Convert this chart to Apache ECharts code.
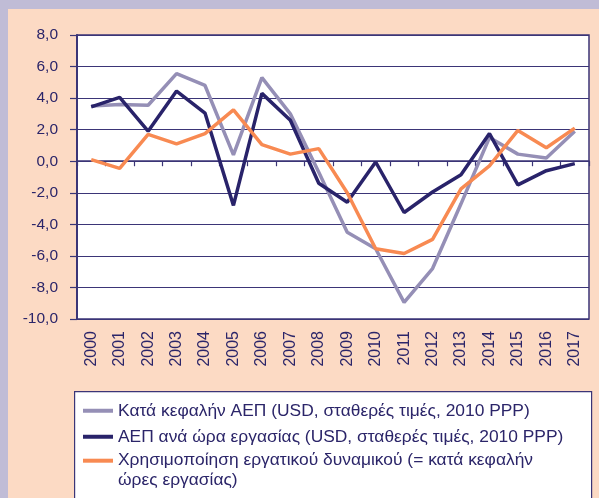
<!DOCTYPE html>
<html>
<head>
<meta charset="utf-8">
<style>
  html, body { margin: 0; padding: 0; background: #fcdac4; }
  #chart { width: 599px; height: 498px; }
</style>
<script src="https://cdn.jsdelivr.net/npm/echarts@6/dist/echarts.min.js"></script>
</head>
<body>
<div id="chart"></div>
<script>
// Years on the category axis
const years = ['2000','2001','2002','2003','2004','2005','2006','2007','2008',
               '2009','2010','2011','2012','2013','2014','2015','2016','2017'];

// Annual % change
const gdpPerCapita = [3.5, 3.6, 3.55, 5.55, 4.8, 0.4, 5.3, 3.0, -0.7,
                      -4.5, -5.55, -8.95, -6.8, -2.7, 1.5, 0.45, 0.2, 1.9];
const gdpPerHour   = [3.45, 4.05, 1.9, 4.45, 3.05, -2.8, 4.3, 2.6, -1.4,
                      -2.6, -0.05, -3.25, -1.95, -0.85, 1.75, -1.5, -0.6, -0.15];
const labourUtil   = [0.1, -0.45, 1.7, 1.1, 1.75, 3.25, 1.05, 0.45, 0.8,
                      -2.0, -5.55, -5.85, -4.95, -1.75, -0.3, 1.95, 0.85, 2.1];

const seriesNames = [
  'Κατά κεφαλήν ΑΕΠ (USD, σταθερές τιμές, 2010 PPP)',
  'ΑΕΠ ανά ώρα εργασίας (USD, σταθερές τιμές, 2010 PPP)',
  'Χρησιμοποίηση εργατικού δυναμικού (= κατά κεφαλήν ώρες εργασίας)'
];
// wrapped label; the leading blank line keeps the icon level with the first text line
const thirdNameWrapped = '\nΧρησιμοποίηση εργατικού δυναμικού (= κατά κεφαλήν\nώρες εργασίας)';

const INK = '#2b2569';
const GRID = '#3b3577';
const FONT = 'Liberation Sans, Arial, sans-serif';
const colors = ['#958fb6', '#29236a', '#f88a52'];
const LH = 19.5;

const chart = echarts.init(document.getElementById('chart'), null, { renderer: 'canvas' });

const fmt = v => v.toFixed(1).replace('.', ',');

chart.setOption({
  backgroundColor: '#fcdac4',
  animation: false,
  color: colors,
  graphic: [
    // lavender edge bands
    { type: 'rect', left: 0, top: 0, shape: { width: 599, height: 9 }, style: { fill: '#c0bcd6' }, z: -10 },
    { type: 'rect', left: 0, top: 0, shape: { width: 8, height: 498 }, style: { fill: '#c0bcd6' }, z: -10 },
    // legend frame
    { type: 'rect', left: 74, top: 391, shape: { x: 0, y: 0, width: 517, height: 120 },
      style: { fill: '#ffffff', stroke: GRID, lineWidth: 1.2 }, z: -5 }
  ],
  grid: {
    left: 77, top: 35, right: 10, bottom: 179,
    show: true, backgroundColor: '#ffffff', borderColor: GRID, borderWidth: 1.5
  },
  legend: [
    {
      data: [seriesNames[0], seriesNames[1]],
      orient: 'vertical', left: 83, top: 401, padding: 0,
      itemWidth: 30, itemHeight: 4, itemGap: 26 - LH, icon: 'rect',
      textStyle: { fontFamily: FONT, fontSize: 17.4, color: INK, lineHeight: LH }
    },
    {
      data: [seriesNames[2]],
      formatter: () => thirdNameWrapped,
      orient: 'vertical', left: 83, top: 460.7 - 1.5 * LH, padding: 0,
      itemWidth: 30, itemHeight: 4, icon: 'rect',
      textStyle: { fontFamily: FONT, fontSize: 17.4, color: INK, lineHeight: LH }
    }
  ],
  xAxis: [
    {
      // bottom axis carrying the year labels
      type: 'category', data: years, position: 'bottom',
      axisLine: { show: false, onZero: false },
      axisTick: { show: false },
      axisLabel: { rotate: 90, margin: 12, fontFamily: FONT, fontSize: 16, color: INK, interval: 0 },
      splitLine: { show: false }
    },
    {
      // zero line with downward ticks
      type: 'category', data: years, position: 'top',
      axisLine: { show: true, onZero: true, lineStyle: { color: GRID, width: 1.5 } },
      axisTick: { show: true, inside: true, length: 5, interval: 0, lineStyle: { color: GRID, width: 1.2 } },
      axisLabel: { show: false },
      splitLine: { show: false }
    }
  ],
  yAxis: {
    type: 'value', min: -10, max: 8, interval: 2,
    axisLine: { show: true, lineStyle: { color: GRID, width: 2 } },
    axisTick: { show: true, length: 7, lineStyle: { color: GRID, width: 1.2 } },
    axisLabel: { formatter: fmt, margin: 19, fontFamily: FONT, fontSize: 15.5, color: INK },
    splitLine: { show: true, lineStyle: { color: GRID, width: 1.2 } }
  },
  series: [
    { name: seriesNames[0], type: 'line', data: gdpPerCapita, showSymbol: false, lineStyle: { width: 3.5 }, z: 2 },
    { name: seriesNames[1], type: 'line', data: gdpPerHour, showSymbol: false, lineStyle: { width: 3.5 }, z: 3 },
    { name: seriesNames[2], type: 'line', data: labourUtil, showSymbol: false, lineStyle: { width: 3.5 }, z: 4 }
  ]
});
</script>
</body>
</html>
